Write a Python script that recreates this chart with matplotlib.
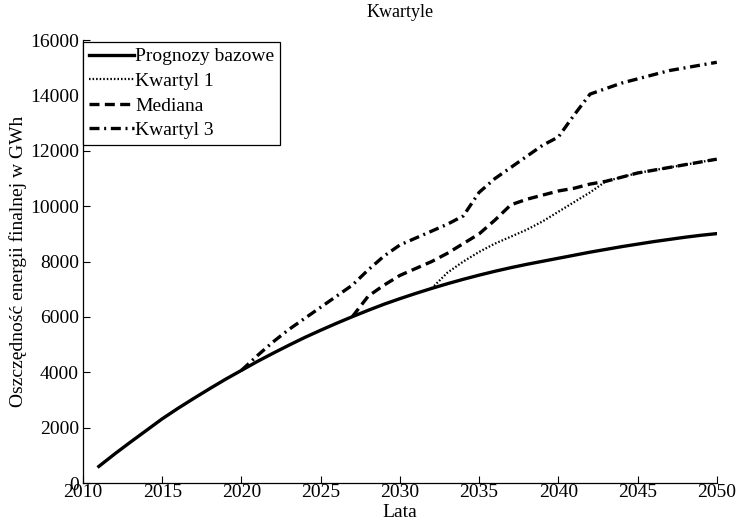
import matplotlib
matplotlib.use("Agg")
import matplotlib.pyplot as plt

plt.rcParams['font.family'] = ['Liberation Serif', 'DejaVu Serif']

years_base = list(range(2011, 2051))
base = [600, 1050, 1480, 1900, 2320, 2700, 3060, 3410, 3750, 4070,
        4390, 4690, 4980, 5260, 5520, 5770, 6010, 6240, 6460, 6660,
        6850, 7030, 7200, 7360, 7510, 7650, 7780, 7900, 8010, 8120,
        8230, 8340, 8440, 8540, 8630, 8720, 8800, 8880, 8950, 9010]

years_q1 = list(range(2032, 2051))
q1 = [7030, 7600, 8000, 8350, 8650, 8900, 9150, 9450, 9800, 10150,
      10500, 10900, 11050, 11200, 11300, 11400, 11500, 11600, 11700]

years_med = list(range(2027, 2051))
median = [6010, 6750, 7150, 7500, 7750, 8000, 8300, 8650, 9000, 9500,
          10050, 10250, 10400, 10550, 10650, 10800, 10900, 11050, 11200,
          11300, 11400, 11500, 11600, 11700]

years_q3 = list(range(2020, 2051))
q3 = [4070, 4600, 5100, 5550, 5950, 6350, 6750, 7150, 7700, 8200,
      8600, 8850, 9100, 9350, 9650, 10500, 11000, 11400, 11800, 12200,
      12500, 13300, 14050, 14250, 14450, 14600, 14750, 14900, 15000,
      15100, 15200]

labels = ['Prognozy bazowe', 'Kwartyl 1', 'Mediana', 'Kwartyl 3']
xticks = [2010, 2015, 2020, 2025, 2030, 2035, 2040, 2045, 2050]
yticks = [0, 2000, 4000, 6000, 8000, 10000, 12000, 14000, 16000]

fig = plt.figure(figsize=(7.37, 5.26), dpi=100)
ax = fig.add_axes([0.1126, 0.0817, 0.860, 0.842])

lw = 2.4
ax.plot(years_base, base, color='black', lw=lw, ls='-', label=labels[0])
ax.plot(years_q1, q1, color='black', lw=1.6, ls=(0, (0.7, 0.9)), label=labels[1])
ax.plot(years_med, median, color='black', lw=lw, ls=(0, (3.0, 1.6)), label=labels[2])
ax.plot(years_q3, q3, color='black', lw=lw, ls=(0, (3.0, 1.4, 0.6, 1.4)), label=labels[3])

ax.set_xlim(2010, 2050)
ax.set_ylim(0, 16000)
ax.set_xticks(xticks)
ax.set_yticks(yticks)
ax.tick_params(direction='in', length=5, width=0.8, labelsize=14, colors='black')
ax.tick_params(axis='x', pad=1)
ax.tick_params(axis='y', pad=3)
for s in ('top', 'right'):
    ax.spines[s].set_visible(False)
for s in ('left', 'bottom'):
    ax.spines[s].set_linewidth(0.9)

ax.set_title('Kwartyle', fontsize=13, pad=17)
ax.set_xlabel('Lata', fontsize=14, labelpad=2)
ax.set_ylabel('Oszczędność energii finalnej w GWh', fontsize=14, labelpad=2)

leg = ax.legend(loc='upper left', bbox_to_anchor=(0.0, 0.996), fontsize=14,
                frameon=True, fancybox=False, edgecolor='black', framealpha=1,
                borderaxespad=0.0, handlelength=2.3, handletextpad=0.1,
                labelspacing=0.36, borderpad=0.3)
leg.get_frame().set_linewidth(0.9)

fig.savefig('out.png', dpi=100)
